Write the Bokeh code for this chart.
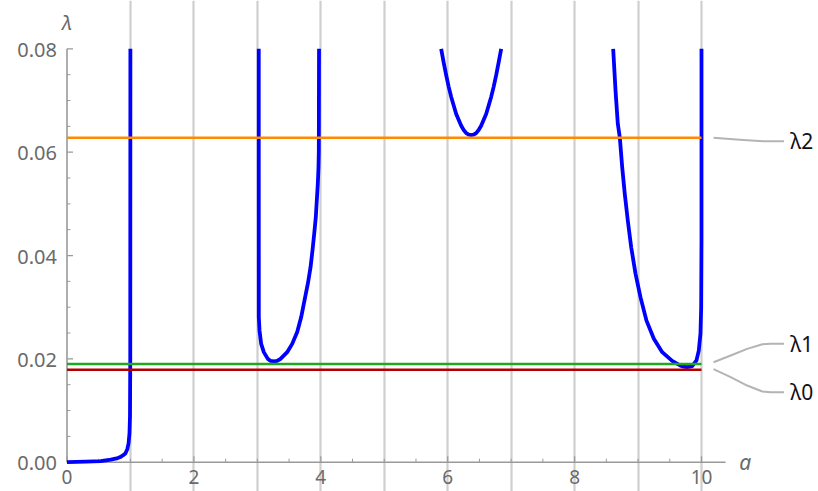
from bokeh.plotting import figure
from bokeh.models import Range1d, FixedTicker
from bokeh.core.properties import value
from bokeh.embed import file_html
from bokeh.resources import INLINE

# ---- data ----
a_b1 = [0.0, 0.3, 0.53, 0.69, 0.80, 0.84, 0.88, 0.92, 0.95, 0.97, 0.985, 0.993, 0.997, 0.999]
l_b1 = [0.0, 0.0001, 0.0002, 0.0005, 0.0008, 0.0010, 0.0013, 0.0017, 0.0025, 0.0036, 0.0056, 0.0090, 0.020, 0.080]

a_b2 = [3.022, 3.022, 3.023, 3.034, 3.060, 3.102, 3.165, 3.210, 3.260, 3.312, 3.365, 3.470, 3.549, 3.628, 3.691,
        3.743, 3.795, 3.838, 3.869, 3.896, 3.921, 3.937, 3.953, 3.964, 3.969, 3.972]
l_b2 = [0.080, 0.0603, 0.0281, 0.0255, 0.0229, 0.0213, 0.0200, 0.0196, 0.0195, 0.0196, 0.0200, 0.0213, 0.0229,
        0.0252, 0.0281, 0.0313, 0.0345, 0.0377, 0.0410, 0.0442, 0.0474, 0.0507, 0.0539, 0.0571, 0.0603, 0.080]

a_b3 = [5.897, 5.936, 5.976, 6.015, 6.055, 6.134, 6.213, 6.252, 6.292, 6.331, 6.370, 6.409, 6.448, 6.488,
        6.527, 6.606, 6.685, 6.725, 6.764, 6.803, 6.843]
l_b3 = [0.0800, 0.0774, 0.0749, 0.0727, 0.0707, 0.0674, 0.0651, 0.0643, 0.0637, 0.0634, 0.0633, 0.0634, 0.0637,
        0.0643, 0.0651, 0.0674, 0.0707, 0.0727, 0.0749, 0.0774, 0.0800]

a_b4 = [8.608, 8.645, 8.681, 8.713, 8.750, 8.791, 8.838, 8.892, 8.960, 9.039, 9.133, 9.249, 9.381,
        9.538, 9.669, 9.720, 9.774, 9.853, 9.921, 9.957, 9.984, 9.995, 10.0, 10.0]
l_b4 = [0.0800, 0.0719, 0.0655, 0.0628, 0.0571, 0.0519, 0.0468, 0.0416, 0.0365, 0.0319, 0.0274, 0.0239, 0.0213,
        0.0196, 0.0187, 0.0185, 0.0184, 0.0186, 0.0197, 0.0216, 0.0249, 0.0300, 0.0429, 0.0800]

lam_names = ["λ0", "λ1", "λ2"]
lam_values = [0.0179, 0.0190, 0.0628]
lam_colors = ["#b20000", "#1fa81f", "#ff8a00"]

# callout connectors (a, λ) and label anchors
c2_a = [10.19, 10.50, 10.72, 10.98, 11.30]
c2_l = [0.0628, 0.0625, 0.0623, 0.0621, 0.0621]
c1_a = [10.19, 10.46, 10.72, 10.96, 11.09, 11.30]
c1_l = [0.01935, 0.02065, 0.02194, 0.02283, 0.02291, 0.02291]
c0_a = [10.19, 10.46, 10.72, 10.96, 11.09, 11.30]
c0_l = [0.0180, 0.01645, 0.01484, 0.01368, 0.01355, 0.01355]
lab_a = 11.40
lab_l = [0.01355, 0.02291, 0.0621]

# axes
x_major = [0, 2, 4, 6, 8, 10]
x_major_labels = ["0", "2", "4", "6", "8", "10"]
x_minor = [0.5, 1.0, 1.5, 2.5, 3.0, 3.5, 4.5, 5.0, 5.5, 6.5, 7.0, 7.5, 8.5, 9.0, 9.5]
x_grid = [1, 2, 3, 4, 5, 6, 7, 8, 9, 10]
x_axis_end = 10.38
y_major = [0.0, 0.02, 0.04, 0.06, 0.08]
y_major_labels = ["0.00", "0.02", "0.04", "0.06", "0.08"]
y_minor = [0.005, 0.01, 0.015, 0.025, 0.03, 0.035, 0.045, 0.05, 0.055, 0.065, 0.07, 0.075]
x_label = "a"
y_label = "λ"

FONT = "Noto Sans"
GRAY = "#9a9a9a"
LABEL_GRAY = "#6a6a6a"

p = figure(width=816, height=491, output_backend="svg", toolbar_location=None,
           x_range=Range1d(-1.0481, 11.8125), y_range=Range1d(-0.00567, 0.08936),
           min_border_left=0, min_border_right=0, min_border_top=0, min_border_bottom=0)
p.outline_line_color = None
p.xaxis.visible = False
p.yaxis.visible = False

# vertical grid lines from 0 to 0.08
p.ygrid.visible = False
p.xgrid.ticker = FixedTicker(ticks=x_grid)
p.xgrid.bounds = (0, 0.08)
p.xgrid.grid_line_color = "#cfcfcf"
p.xgrid.grid_line_width = 2.2

# axis lines
p.line(x=[0, x_axis_end], y=[0, 0], line_color=GRAY, line_width=1.6)
p.line(x=[0, 0], y=[0, 0.08], line_color=GRAY, line_width=1.6)

# ticks (pointing inward)
XT_MAJ, XT_MIN = 0.00116, 0.00068
YT_MAJ, YT_MIN = 0.0946, 0.055
p.segment(x0=x_major, y0=[0] * len(x_major), x1=x_major, y1=[XT_MAJ] * len(x_major),
          line_color=GRAY, line_width=1.2)
p.segment(x0=x_minor, y0=[0] * len(x_minor), x1=x_minor, y1=[XT_MIN] * len(x_minor),
          line_color=GRAY, line_width=1.0)
p.segment(x0=[0] * len(y_major), y0=y_major, x1=[YT_MAJ] * len(y_major), y1=y_major,
          line_color=GRAY, line_width=1.2)
p.segment(x0=[0] * len(y_minor), y0=y_minor, x1=[YT_MIN] * len(y_minor), y1=y_minor,
          line_color=GRAY, line_width=1.0)

# tick labels
p.text(x=x_major, y=[0] * len(x_major), text=x_major_labels, text_font=value(FONT),
       text_font_size="19px", text_color=LABEL_GRAY, text_align="center",
       text_baseline="middle", y_offset=15)
p.text(x=[0] * len(y_major), y=y_major, text=y_major_labels, text_font=value(FONT),
       text_font_size="20px", text_color=LABEL_GRAY, text_align="right",
       text_baseline="middle", x_offset=-10, y_offset=1)

# axis labels
p.text(x=[10.69], y=[0], text=[x_label], text_font=value(FONT), text_font_size="21px",
       text_font_style="italic", text_color=LABEL_GRAY, text_align="center", text_baseline="middle")
p.text(x=[0], y=[0.08], text=[y_label], text_font=value(FONT), text_font_size="20px",
       text_font_style="italic", text_color=LABEL_GRAY, text_align="center", text_baseline="middle",
       y_offset=-26)

# blue curve branches
for xs, ys in ((a_b1, l_b1), (a_b2, l_b2), (a_b3, l_b3), (a_b4, l_b4)):
    p.line(x=xs, y=ys, line_color="#0000ff", line_width=3.8, line_join="round", line_cap="butt")

# horizontal eigenvalue lines
for v, c in zip(lam_values, lam_colors):
    p.line(x=[0, 10], y=[v, v], line_color=c, line_width=2.4)

# callouts
for xs, ys in ((c0_a, c0_l), (c1_a, c1_l), (c2_a, c2_l)):
    p.line(x=xs, y=ys, line_color="#b4b4b4", line_width=2, line_join="round")
p.text(x=[lab_a] * 3, y=lab_l, text=lam_names, text_font=value(FONT),
       text_font_size="21px", text_color="#111111", text_baseline="middle", text_align="left")

open("out.html", "w").write(file_html(p, INLINE))
